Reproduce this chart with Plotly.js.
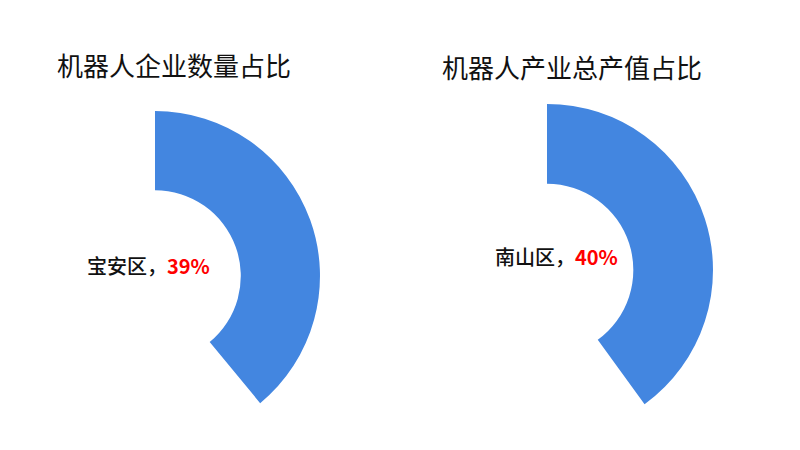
<!DOCTYPE html>
<html>
<head>
<meta charset="utf-8">
<script src="https://cdn.plot.ly/plotly-3.0.1.min.js"></script>
<style>
  html, body { margin: 0; padding: 0; background: #ffffff; overflow: hidden; }
  #chart { position: absolute; left: -10px; top: 0; width: 810px; height: 450px; }
</style>
</head>
<body>
<div id="chart"></div>
<script>
// ---- data ----
const chartTitles = ['机器人企业数量占比', '机器人产业总产值占比'];
const districts = ['宝安区', '南山区'];
const shares = [39, 40];
const otherShares = [61, 60];
const sliceLabels = ['district', 'other'];

// ---- styling ----
const blue = '#4386e0';
const font = '"Noto Sans CJK SC", "Noto Sans", sans-serif';
const domains = [
  { x: [0, 0.4074], y: [0.02, 0.7533] },
  { x: [0.4827, 0.8926], y: [0.0311, 0.7689] }
];
const titlePos = [{ x: 0.0802, y: 0.8556 }, { x: 0.5556, y: 0.8533 }];
const labelPos = [{ x: 0.1173, y: 0.4111 }, { x: 0.621, y: 0.4289 }];

const traces = shares.map((s, i) => ({
  type: 'pie',
  values: [s, otherShares[i]],
  labels: sliceLabels,
  sort: false,
  direction: 'clockwise',
  rotation: 0,
  hole: 0.52,
  domain: domains[i],
  marker: { colors: [blue, 'rgba(0,0,0,0)'], line: { width: 0 } },
  textinfo: 'none',
  hoverinfo: 'skip',
  showlegend: false
}));

const annotations = [];
chartTitles.forEach((t, i) => {
  annotations.push({
    text: t, xref: 'paper', yref: 'paper',
    x: titlePos[i].x, y: titlePos[i].y, xanchor: 'left', yanchor: 'middle',
    showarrow: false, font: { family: font, size: 26, color: '#111111' }
  });
  annotations.push({
    text: districts[i] + '，<span style="color:#ff0000"><b>' + shares[i] + '%</b></span>',
    xref: 'paper', yref: 'paper',
    x: labelPos[i].x, y: labelPos[i].y, xanchor: 'left', yanchor: 'middle',
    showarrow: false, font: { family: font, size: 20, color: '#111111', weight: 500 }
  });
});

const layout = {
  width: 810, height: 450,
  margin: { l: 0, r: 0, t: 0, b: 0, pad: 0 },
  paper_bgcolor: '#ffffff',
  plot_bgcolor: '#ffffff',
  showlegend: false,
  annotations: annotations
};

Plotly.newPlot('chart', traces, layout, { staticPlot: true, displayModeBar: false });
</script>
</body>
</html>
